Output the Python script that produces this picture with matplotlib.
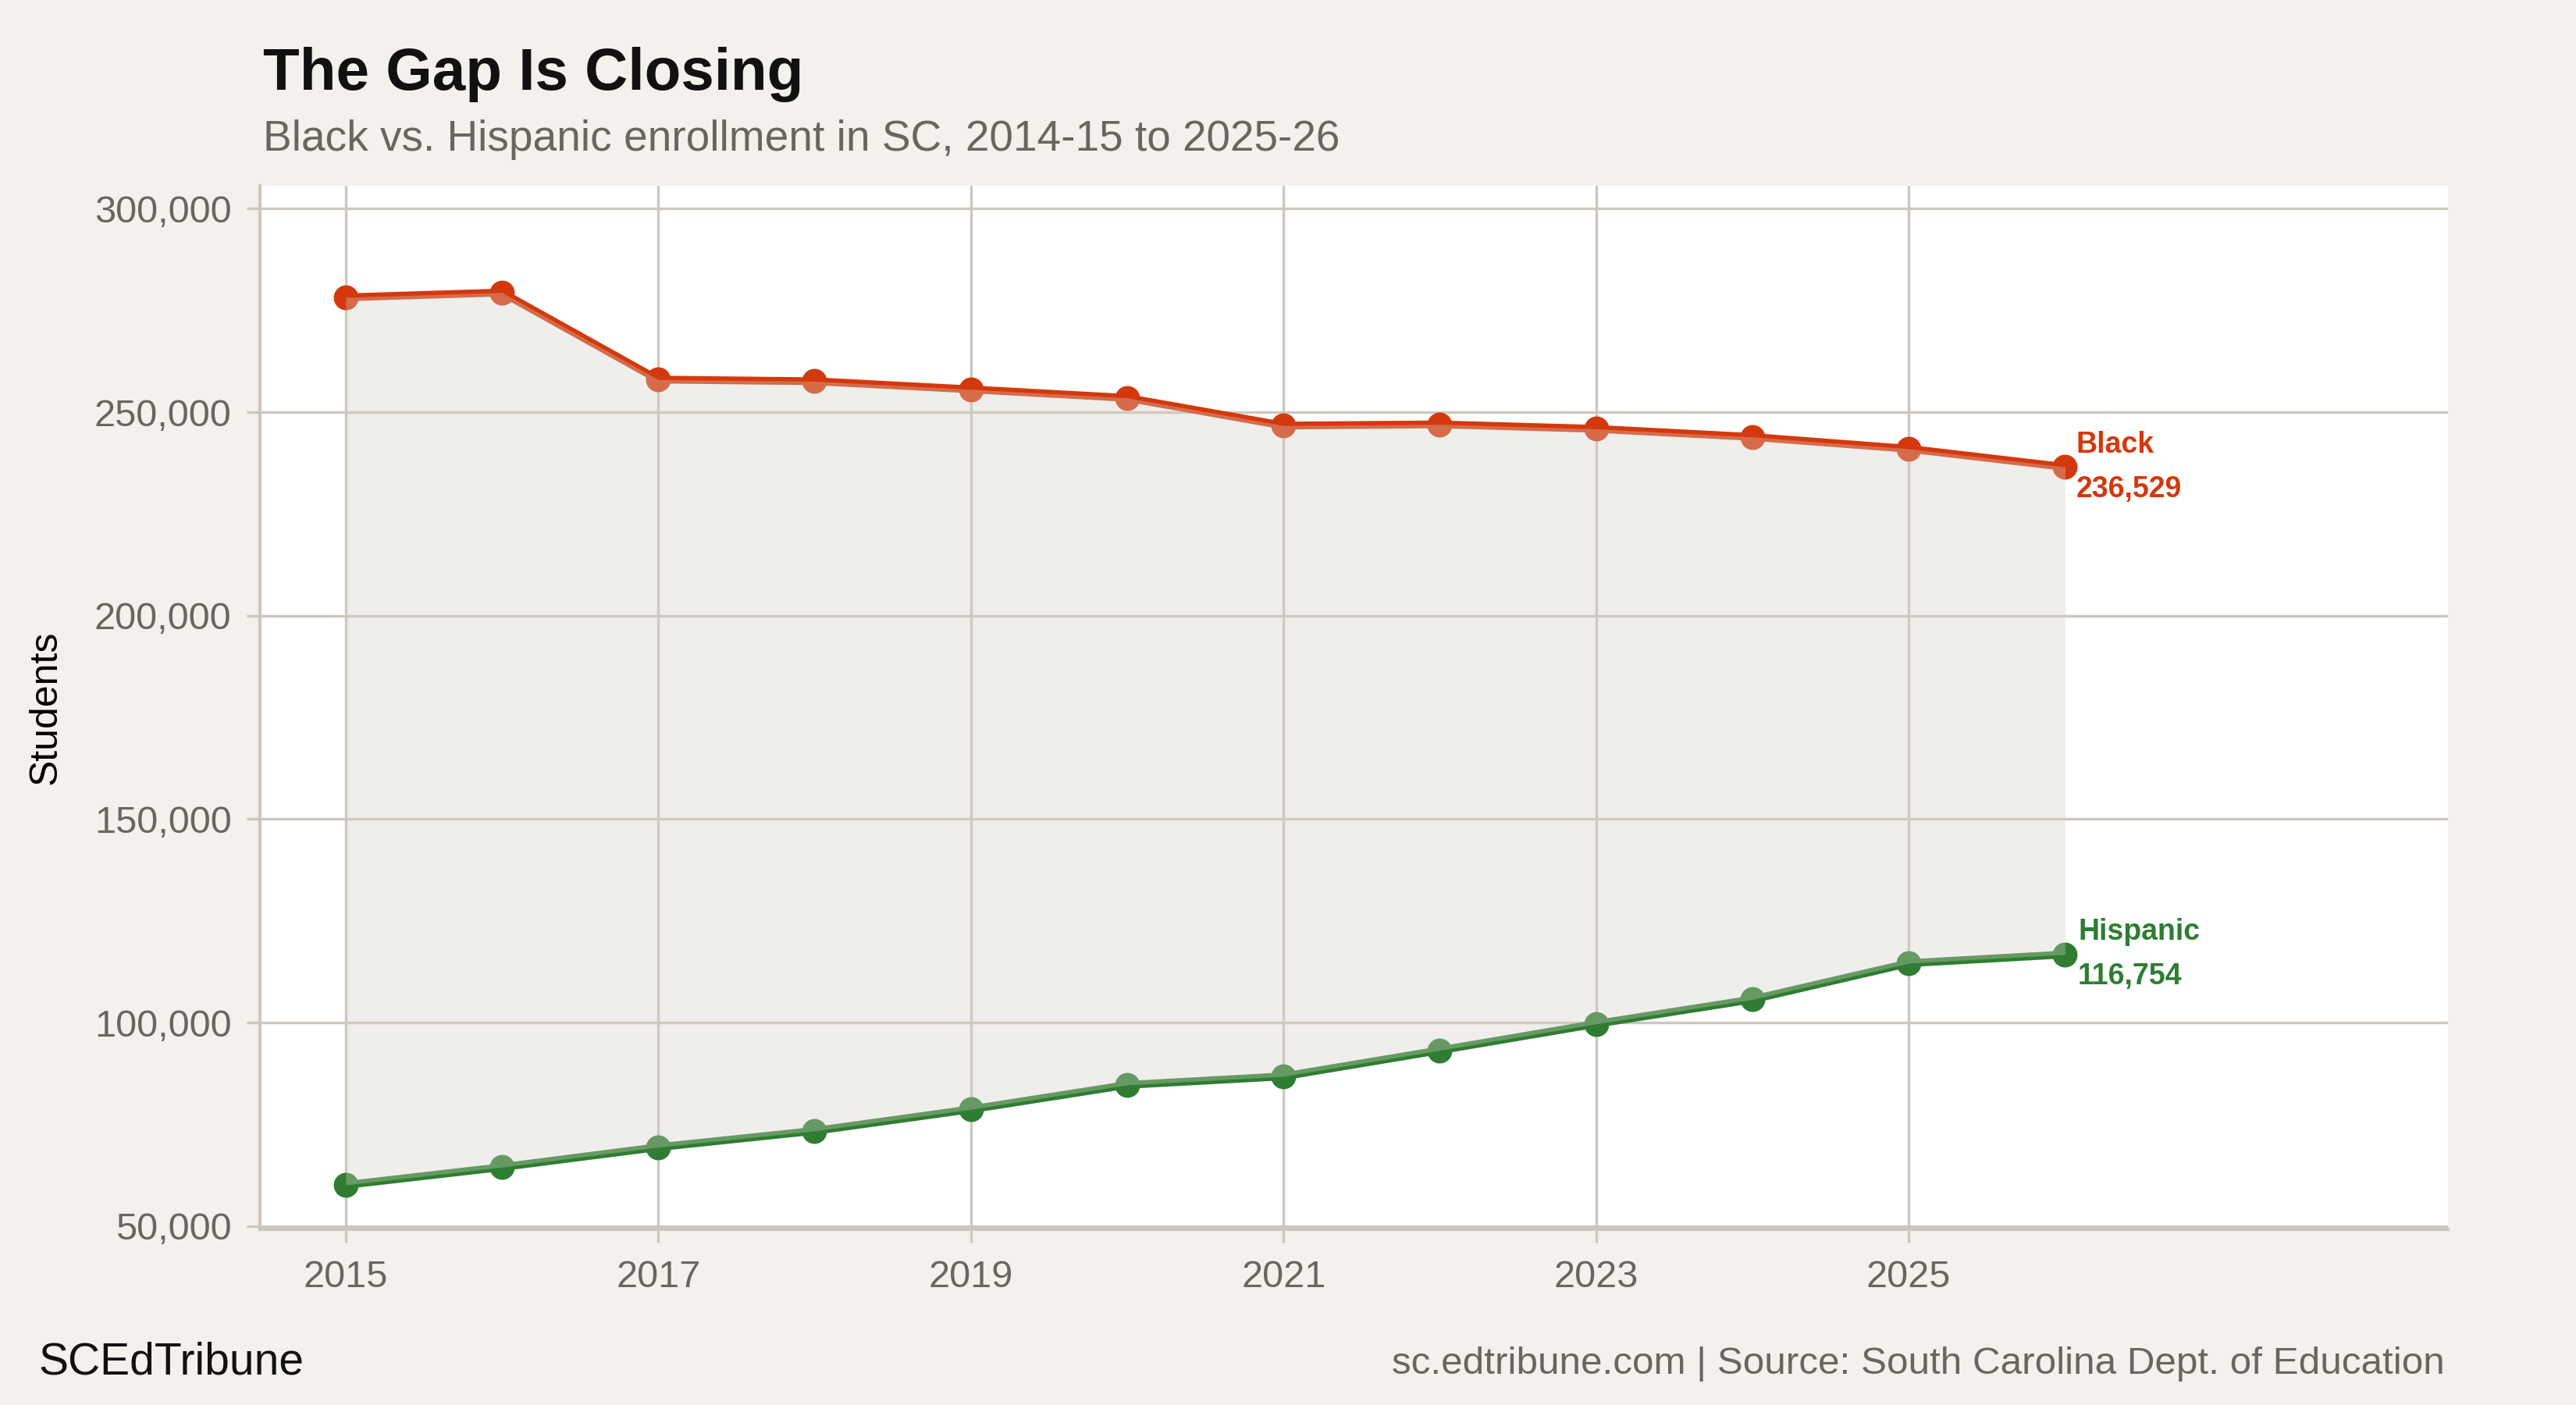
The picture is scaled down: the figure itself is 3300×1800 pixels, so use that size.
import matplotlib.pyplot as plt
from matplotlib.ticker import FuncFormatter

plt.rcParams['font.family'] = ['Liberation Sans', 'DejaVu Sans']

years = [2015, 2016, 2017, 2018, 2019, 2020, 2021, 2022, 2023, 2024, 2025, 2026]
black = [278200, 279400, 258000, 257600, 255600, 253500, 246700, 247000, 245900, 243900, 241000, 236529]
hispanic = [60100, 64500, 69400, 73400, 78700, 84700, 86800, 93200, 99700, 105700, 114600, 116754]

red = '#d4380d'
green = '#2e7d32'
bg = '#f4f1ec'
grid = '#cdc7bf'
gray = '#6b6560'

fig = plt.figure(figsize=(16.5, 9), dpi=200, facecolor=bg)
ax = fig.add_axes([0.1008, 0.125, 0.8495, 0.743])
ax.set_facecolor('white')

ax.plot(years, black, color=red, lw=3.6, marker='o', ms=10.5, zorder=3)
ax.plot(years, hispanic, color=green, lw=3.6, marker='o', ms=10.5, zorder=3)
# shaded gap drawn over the lines, which lightens their inner half
ax.fill_between(years, hispanic, black, color='#d4cfc4', alpha=0.35, lw=0, zorder=4)

ax.annotate('Black\n' + f'{black[-1]:,}', (years[-1], black[-1]), xytext=(5, 0),
            textcoords='offset points', va='center', ha='left', color=red,
            fontsize=13.5, fontweight='bold', linespacing=1.75, zorder=5)
ax.annotate('Hispanic\n' + f'{hispanic[-1]:,}', (years[-1], hispanic[-1]), xytext=(6, 0),
            textcoords='offset points', va='center', ha='left', color=green,
            fontsize=13.5, fontweight='bold', linespacing=1.75, zorder=5)

ax.set_xlim(2014.45, 2028.45)
ax.set_ylim(49200, 305700)
ax.set_xticks([2015, 2017, 2019, 2021, 2023, 2025])
ax.set_yticks([50000, 100000, 150000, 200000, 250000, 300000])
ax.yaxis.set_major_formatter(FuncFormatter(lambda v, p: f'{int(v):,}'))
ax.grid(True, color=grid, lw=1.2, zorder=1)
ax.set_axisbelow(True)

for s in ['top', 'right']:
    ax.spines[s].set_visible(False)
for s in ['left', 'bottom']:
    ax.spines[s].set_color(grid)
    ax.spines[s].set_linewidth(1.5)
ax.tick_params(colors=grid, labelcolor=gray, labelsize=17.5, length=6, width=1.2)
ax.tick_params(axis='y', pad=7)
ax.tick_params(axis='x', pad=8)
ax.set_ylabel('Students', fontsize=18, color='black', labelpad=14)

fig.text(0.102, 0.936, 'The Gap Is Closing', fontsize=27.5, fontweight='bold', color='#111111')
fig.text(0.102, 0.893, 'Black vs. Hispanic enrollment in SC, 2014-15 to 2025-26', fontsize=19.8, color=gray)
fig.text(0.015, 0.022, 'SCEdTribune', fontsize=20.5, color='#111111')
fig.text(0.949, 0.022, 'sc.edtribune.com | Source: South Carolina Dept. of Education', fontsize=17.8,
         color=gray, ha='right')

fig.savefig('out.png', dpi=200, facecolor=bg)
